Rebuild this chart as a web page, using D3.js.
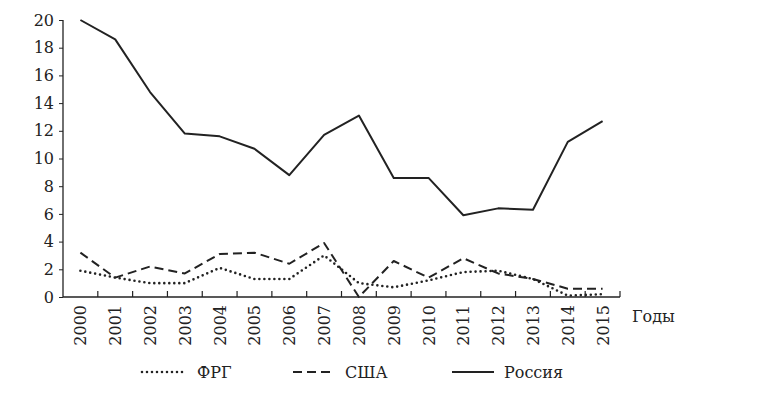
<!DOCTYPE html>
<html>
<head>
<meta charset="utf-8">
<script src="https://cdn.jsdelivr.net/npm/d3@7"></script>
<style>
  body { margin: 0; background: #fff; }
  svg text { font-family: "DejaVu Serif", serif; fill: #222; }
</style>
</head>
<body>
<svg id="chart" width="770" height="394"></svg>
<script>
const years = ["2000","2001","2002","2003","2004","2005","2006","2007",
  "2008","2009","2010","2011","2012","2013","2014","2015"];
const frg = [1.9, 1.4, 1.0, 1.0, 2.1, 1.3, 1.3, 3.0, 1.0, 0.7, 1.2, 1.8, 1.9, 1.3, 0.1, 0.2];
const usa = [3.2, 1.4, 2.2, 1.7, 3.1, 3.2, 2.4, 3.9, 0.0, 2.6, 1.4, 2.8, 1.7, 1.3, 0.6, 0.6];
const russia = [20.0, 18.6, 14.8, 11.8, 11.6, 10.7, 8.8, 11.7, 13.1, 8.6, 8.6, 5.9, 6.4, 6.3, 11.2, 12.7];
const yTicks = [0, 2, 4, 6, 8, 10, 12, 14, 16, 18, 20];
const seriesNames = ["ФРГ", "США", "Россия"];

const ink = "#222";
const svg = d3.select("#chart");

let x = d3.scaleBand()
  .domain(years)
  .range([63, 620]);
let y = d3.scaleLinear()
  .domain([0, 20])
  .range([297, 20]);

// x axis: ticks between the years, pointing up
let xAxis = svg.append("g")
  .attr("transform", "translate(0,297)");
xAxis.append("line")
  .attr("x1", x.range()[0]).attr("x2", x.range()[1])
  .attr("y1", 0).attr("y2", 0)
  .attr("stroke", ink).attr("stroke-width", 1.3);
xAxis.selectAll(".tick")
  .data(years.slice(1).concat(["end"]))
  .enter()
  .append("line")
    .attr("x1", (d, i) => x.range()[0] + x.step() * (i + 1))
    .attr("x2", (d, i) => x.range()[0] + x.step() * (i + 1))
    .attr("y1", 0).attr("y2", -6)
    .attr("stroke", ink).attr("stroke-width", 1.2);
xAxis.selectAll(".label")
  .data(years)
  .enter()
  .append("text")
    .attr("transform", d => "translate(" + (x(d) + x.bandwidth()/2 + 6) + ",8) rotate(-90)")
    .style("text-anchor", "end")
    .style("font-size", "16px")
    .text(d => d);

svg.append("text")
  .attr("x", 632)
  .attr("y", 322)
  .style("font-size", "16px")
  .text("Годы");

// y axis
svg.append("g")
  .attr("transform", "translate(63,0)")
  .call(d3.axisLeft(y).tickValues(yTicks).tickSize(4).tickPadding(5))
  .call(g => g.select(".domain").attr("d", "M0," + y(20) + "V" + y(0)).attr("stroke", ink).attr("stroke-width", 1.3))
  .call(g => g.selectAll(".tick line").attr("stroke", ink))
  .call(g => g.selectAll(".tick text").style("font-size", "16px").style("font-family", "DejaVu Serif").attr("fill", ink));

let line = d3.line()
  .x((d, i) => x(years[i]) + x.bandwidth()/2)
  .y(d => y(d));

const styles = [
  { data: frg, dash: "0,5", cap: "round", width: 2.6 },
  { data: usa, dash: "9,5", cap: "butt", width: 2 },
  { data: russia, dash: null, cap: "butt", width: 2 }
];

styles.forEach(s => {
  svg.append("path")
    .datum(s.data)
    .attr("d", line)
    .attr("fill", "none")
    .attr("stroke", ink)
    .attr("stroke-width", s.width)
    .attr("stroke-linecap", s.cap)
    .attr("stroke-linejoin", "round")
    .attr("stroke-dasharray", s.dash);
});

// legend
const legendX = [142, 293, 452];
let legend = svg.selectAll(".legend")
  .data(seriesNames)
  .enter()
  .append("g")
    .attr("transform", (d, i) => "translate(" + legendX[i] + ",372)");
legend.append("line")
  .attr("x1", 0).attr("x2", (d, i) => i === 0 ? 43 : 42)
  .attr("y1", 0).attr("y2", 0)
  .attr("stroke", ink)
  .attr("stroke-width", (d, i) => styles[i].width)
  .attr("stroke-linecap", (d, i) => styles[i].cap)
  .attr("stroke-dasharray", (d, i) => styles[i].dash);
legend.append("text")
  .attr("x", (d, i) => i === 0 ? 55 : 52)
  .attr("y", 6)
  .style("font-size", "16px")
  .text(d => d);
</script>
</body>
</html>
